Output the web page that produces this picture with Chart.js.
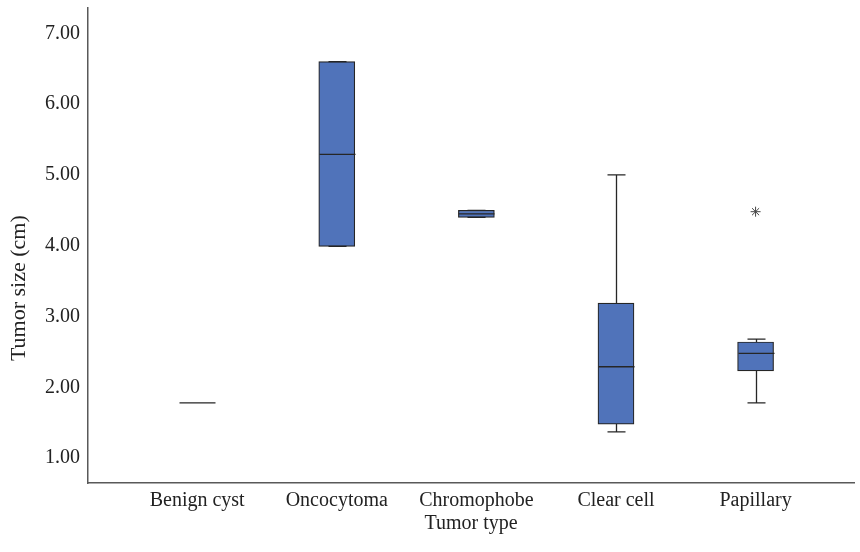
<!DOCTYPE html>
<html>
<head>
<meta charset="utf-8">
<script src="https://cdn.jsdelivr.net/npm/chart.js@4"></script>
<style>
  html, body { margin: 0; padding: 0; background: #fff; }
  #wrap { width: 860px; height: 552px; }
</style>
</head>
<body>
<div id="wrap"><canvas id="boxChart" width="860" height="552"></canvas></div>
<script>
// tumor size by type
var categories = ['Benign cyst', 'Oncocytoma', 'Chromophobe', 'Clear cell', 'Papillary'];
var whiskerLow  = [1.78, 3.99, 4.40, 1.37, 1.78];
var q1          = [1.78, 3.99, 4.40, 1.48, 2.23];
var medians     = [1.78, 5.29, 4.45, 2.29, 2.48];
var q3          = [1.78, 6.60, 4.50, 3.19, 2.64];
var whiskerHigh = [1.78, 6.60, 4.50, 5.00, 2.68];
var outlierCat  = [4];
var outlierVal  = [4.48];
var yTicks = [1, 2, 3, 4, 5, 6, 7];
var yTitle = 'Tumor size (cm)';

var fontFamily = '"Liberation Serif", "DejaVu Serif", serif';
var lineColor = '#262626';
var boxHalf = 18;
var capHalf = 9;

// whiskers, caps and median lines drawn on top of the boxes
var boxPlotLines = {
    id: 'boxPlotLines',
    afterDatasetsDraw: function(chart) {
        var ctx = chart.ctx;
        var x = chart.scales.x, y = chart.scales.y;
        ctx.save();
        ctx.strokeStyle = lineColor;
        ctx.lineWidth = 1.3;
        categories.forEach(function(c, i) {
            var cx = Math.round(x.getPixelForValue(i)) + 0.5;
            var hy = y.getPixelForValue(whiskerHigh[i]);
            var ly = y.getPixelForValue(whiskerLow[i]);
            var ty = y.getPixelForValue(q3[i]);
            var by = y.getPixelForValue(q1[i]);
            var my = y.getPixelForValue(medians[i]);
            ctx.beginPath();
            if (hy < ty) { ctx.moveTo(cx, hy); ctx.lineTo(cx, ty); }
            if (ly > by) { ctx.moveTo(cx, by); ctx.lineTo(cx, ly); }
            ctx.moveTo(cx - capHalf, hy); ctx.lineTo(cx + capHalf, hy);
            ctx.moveTo(cx - capHalf, ly); ctx.lineTo(cx + capHalf, ly);
            ctx.moveTo(cx - boxHalf, my); ctx.lineTo(cx + boxHalf, my);
            ctx.stroke();
        });
        ctx.restore();
    }
};

// y title sits a bit below the middle of the axis in the original
var yTitlePlugin = {
    id: 'yTitlePlugin',
    afterDraw: function(chart) {
        var ctx = chart.ctx;
        var y = chart.scales.y;
        ctx.save();
        ctx.translate(19, y.getPixelForValue(3.4));
        ctx.rotate(-Math.PI / 2);
        ctx.fillStyle = '#222';
        ctx.font = '22px ' + fontFamily;
        ctx.textAlign = 'center';
        ctx.textBaseline = 'middle';
        ctx.fillText(yTitle, 0, 0);
        ctx.restore();
    }
};

var ctx = document.getElementById('boxChart').getContext('2d');
var chart = new Chart(ctx, {
    type: 'bar',
    data: {
        datasets: [{
            label: 'IQR',
            data: categories.map(function(c, i) { return { x: i, y: [q1[i], q3[i]] }; }),
            backgroundColor: '#5073BA',
            borderColor: lineColor,
            borderWidth: 1.2,
            borderSkipped: false,
            barThickness: boxHalf * 2
        }, {
            type: 'scatter',
            label: 'Outliers',
            data: outlierCat.map(function(c, i) { return { x: c, y: outlierVal[i] }; }),
            pointStyle: 'star',
            radius: 5,
            borderColor: '#444',
            borderWidth: 1,
            backgroundColor: '#444'
        }]
    },
    options: {
        responsive: false,
        animation: false,
        devicePixelRatio: 1,
        layout: { padding: { top: 8, right: 0, left: 0, bottom: 0 } },
        plugins: {
            legend: { display: false },
            tooltip: { enabled: false }
        },
        scales: {
            x: {
                type: 'linear',
                offset: false,
                min: -0.782,
                max: 4.705,
                grid: { display: false, drawTicks: false },
                border: { display: true, color: '#595959', width: 1.5 },
                ticks: {
                    stepSize: 1,
                    includeBounds: false,
                    autoSkip: false,
                    maxRotation: 0,
                    padding: 6,
                    color: '#222',
                    font: { family: fontFamily, size: 20 },
                    callback: function(v) { return categories[v] !== undefined ? categories[v] : ''; }
                },
                title: {
                    display: true,
                    text: 'Tumor type',
                    color: '#222',
                    padding: { top: 0, bottom: 16 },
                    font: { family: fontFamily, size: 20 }
                },
                afterFit: function(scale) {
                    scale.height = 69;
                    scale.paddingLeft = 0;
                    scale.paddingRight = 0;
                }
            },
            y: {
                min: 0.648,
                max: 7.357,
                grid: { display: false, drawTicks: false },
                border: { display: true, color: '#595959', width: 1.5 },
                afterBuildTicks: function(scale) {
                    scale.ticks = yTicks.map(function(v) { return { value: v }; });
                },
                ticks: {
                    padding: 8,
                    color: '#222',
                    font: { family: fontFamily, size: 20 },
                    callback: function(v) { return Number(v).toFixed(2); }
                },
                title: { display: false },
                afterFit: function(scale) {
                    scale.width = 88;
                    scale.paddingTop = 0;
                    scale.paddingBottom = 0;
                }
            }
        }
    },
    plugins: [boxPlotLines, yTitlePlugin]
});
</script>
</body>
</html>
